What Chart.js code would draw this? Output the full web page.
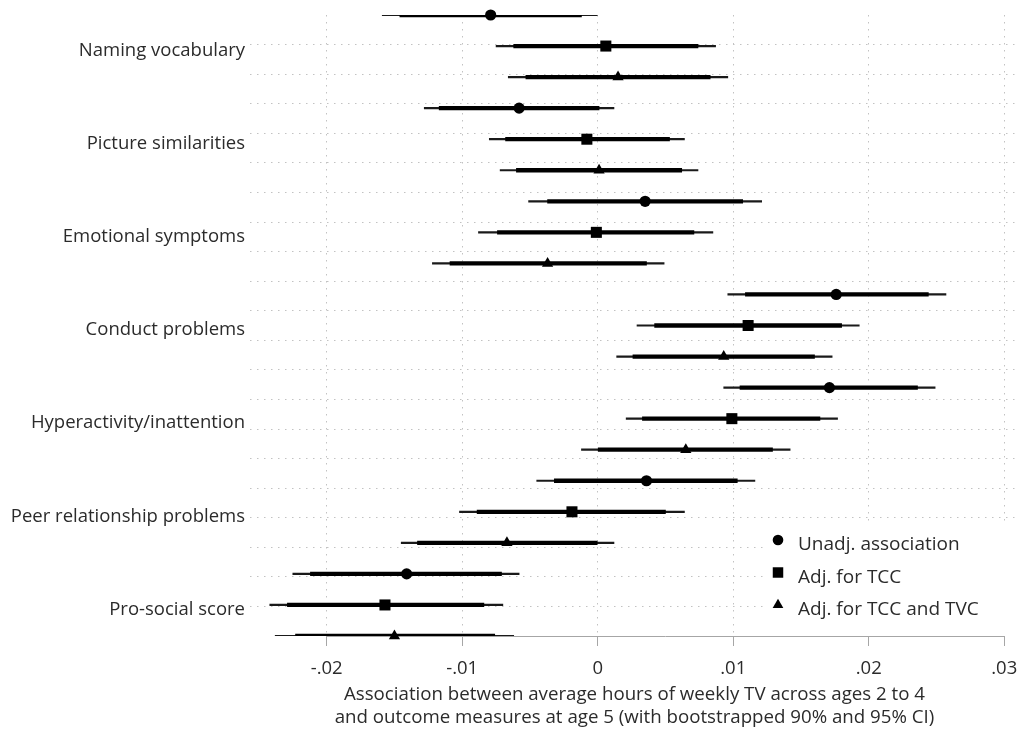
<!DOCTYPE html>
<html>
<head>
<meta charset="utf-8">
<script src="https://cdn.jsdelivr.net/npm/chart.js@4.4.0/dist/chart.umd.min.js"></script>
<style>
  html, body { margin: 0; padding: 0; background: #fff; }
  #wrap { width: 1019px; height: 731px; }
</style>
</head>
<body>
<div id="wrap"><canvas id="forest"></canvas></div>
<script>
const outcomes = ['Naming vocabulary', 'Picture similarities', 'Emotional symptoms', 'Conduct problems',
  'Hyperactivity/inattention', 'Peer relationship problems', 'Pro-social score'];
const models = ['Unadj. association', 'Adj. for TCC', 'Adj. for TCC and TVC'];
const xTicks = [-0.02, -0.01, 0, 0.01, 0.02, 0.03];
const xTitle = ['Association between average hours of weekly TV across ages 2 to 4',
  'and outcome measures at age 5 (with bootstrapped 90% and 95% CI)'];

// one row per outcome x model, top to bottom (unadj, TCC, TCC+TVC)
const estimate = [
  -0.0079, 0.0006, 0.0015,
  -0.0058, -0.0008, 0.0001,
  0.0035, -0.0001, -0.0037,
  0.0176, 0.0111, 0.0093,
  0.0171, 0.0099, 0.0065,
  0.0036, -0.0019, -0.0067,
  -0.0141, -0.0157, -0.0150
];
const lo90 = [
  -0.0146, -0.0062, -0.0053,
  -0.0117, -0.0068, -0.0060,
  -0.0037, -0.0074, -0.0109,
  0.0109, 0.0042, 0.0026,
  0.0105, 0.0033, 0.0000,
  -0.0032, -0.0089, -0.0133,
  -0.0212, -0.0229, -0.0223
];
const hi90 = [
  -0.0012, 0.0074, 0.0083,
  0.0001, 0.0053, 0.0062,
  0.0107, 0.0071, 0.0036,
  0.0244, 0.0180, 0.0160,
  0.0236, 0.0164, 0.0129,
  0.0103, 0.0050, 0.0000,
  -0.0071, -0.0084, -0.0076
];
const lo95 = [
  -0.0159, -0.0075, -0.0066,
  -0.0128, -0.0080, -0.0072,
  -0.0051, -0.0088, -0.0122,
  0.0096, 0.0029, 0.0014,
  0.0093, 0.0021, -0.0012,
  -0.0045, -0.0102, -0.0145,
  -0.0225, -0.0242, -0.0238
];
const hi95 = [
  0.0000, 0.0087, 0.0096,
  0.0012, 0.0064, 0.0074,
  0.0121, 0.0085, 0.0049,
  0.0257, 0.0193, 0.0173,
  0.0249, 0.0177, 0.0142,
  0.0116, 0.0064, 0.0012,
  -0.0058, -0.0070, -0.0062
];

const FONT = '"Open Sans", "DejaVu Sans", sans-serif';
const TEXT = '#2b2b2b';
const GRID = '#c2c2c2';
const DOTS = [1.5, 5.5];

const rows = estimate.map((_, i) => i);
const ciData = (lo, hi) => rows.map(i => ({ x: [lo[i], hi[i]], y: i }));
const pointData = m => rows.filter(i => i % 3 === m).map(i => ({ x: estimate[i], y: i }));

const styles = [
  { pointStyle: 'circle', pointRadius: 5.6 },
  { pointStyle: 'rect', pointRadius: 7.8 },
  { pointStyle: 'triangle', pointRadius: 6.5 }
];

const fmtTick = v => v === 0 ? '0' : (v < 0 ? '-' : '') + Math.abs(v).toFixed(2).replace(/^0/, '');

// axis line only spans the labelled range, and legend sits in a white box
const axisLine = {
  id: 'axisLine',
  beforeDatasetsDraw(chart) {
    const { ctx, chartArea, scales } = chart;
    ctx.save();
    ctx.strokeStyle = '#a6a6a6';
    ctx.lineWidth = 1;
    ctx.beginPath();
    ctx.moveTo(scales.x.getPixelForValue(xTicks[0]), chartArea.bottom + 0.5);
    ctx.lineTo(scales.x.getPixelForValue(xTicks[xTicks.length - 1]), chartArea.bottom + 0.5);
    ctx.stroke();
    ctx.restore();
  }
};

function marker(ctx, style, x, y, r) {
  ctx.beginPath();
  if (style === 'circle') {
    ctx.arc(x, y, r, 0, Math.PI * 2);
  } else if (style === 'rect') {
    const s = r * Math.SQRT1_2;
    ctx.rect(x - s, y - s, 2 * s, 2 * s);
  } else {
    ctx.moveTo(x, y - r);
    ctx.lineTo(x + r * 0.866, y + r / 2);
    ctx.lineTo(x - r * 0.866, y + r / 2);
    ctx.closePath();
  }
  ctx.fill();
}

const legendBox = {
  id: 'legendBox',
  afterDraw(chart) {
    const { ctx, chartArea: a } = chart;
    const left = a.right - 256, top = a.bottom - 115;
    ctx.save();
    ctx.fillStyle = '#fff';
    ctx.fillRect(left, top, 256, 113);
    models.forEach((name, k) => {
      const y = top + 24 + k * 32.5;
      ctx.fillStyle = '#000';
      marker(ctx, styles[k].pointStyle, left + 15, y - 5, styles[k].pointRadius * 0.95);
      ctx.fillStyle = TEXT;
      ctx.font = '19px ' + FONT;
      ctx.textBaseline = 'middle';
      ctx.textAlign = 'left';
      ctx.fillText(name, left + 35, y);
    });
    ctx.restore();
  }
};

const datasets = [
  {
    type: 'bar', label: '95% CI', data: ciData(lo95, hi95),
    backgroundColor: '#1a1a1a', barThickness: 1.5, grouped: false, order: 3
  },
  {
    type: 'bar', label: '90% CI', data: ciData(lo90, hi90),
    backgroundColor: '#000', barThickness: 3.6, grouped: false, order: 2
  }
].concat(models.map((name, m) => ({
  type: 'scatter', label: name, data: pointData(m),
  pointStyle: styles[m].pointStyle, pointRadius: styles[m].pointRadius,
  pointBackgroundColor: '#000', pointBorderWidth: 0, clip: false, order: 1
})));

new Chart(document.getElementById('forest'), {
  type: 'bar',
  data: { datasets },
  plugins: [axisLine, legendBox],
  options: {
    indexAxis: 'y',
    responsive: true,
    maintainAspectRatio: false,
    animation: false,
    layout: { autoPadding: false, padding: { top: 15, left: 0, right: 0, bottom: 0 } },
    plugins: { legend: { display: false }, tooltip: { enabled: false } },
    scales: {
      x: {
        type: 'linear',
        min: -0.02566,
        max: 0.03109,
        offset: false,
        afterBuildTicks: s => { s.ticks = xTicks.map(v => ({ value: v })); },
        afterFit: s => { s.height = 95; s.paddingLeft = 0; s.paddingRight = 0; },
        grid: { offset: false, color: GRID, lineWidth: 1, tickColor: '#a6a6a6', tickLength: 10, tickBorderDash: [] },
        border: { display: false, dash: DOTS },
        ticks: { callback: v => fmtTick(v), color: TEXT, padding: 12, font: { family: FONT, size: 18.5 } },
        title: {
          display: true, text: xTitle, color: TEXT,
          font: { family: FONT, size: 18.7, lineHeight: 1.24 },
          padding: { top: 2, bottom: 2 }
        }
      },
      y: {
        type: 'linear',
        reverse: true,
        offset: false,
        min: 0,
        max: estimate.length - 1,
        afterBuildTicks: s => { s.ticks = outcomes.map((_, k) => ({ value: 3 * k + 1 })); },
        afterFit: s => { s.width = 250; s.paddingTop = 0; s.paddingBottom = 0; },
        grid: { display: false, drawTicks: false, offset: false },
        border: { display: false },
        ticks: {
          callback: (v, i) => outcomes[i], color: TEXT, padding: 5, labelOffset: 4.5,
          font: { family: FONT, size: 18.5 }
        }
      },
      yGrid: {
        type: 'linear',
        position: 'right',
        offset: false,
        min: 0,
        max: 21,
        afterBuildTicks: s => { s.ticks = Array.from({ length: 20 }, (_, k) => ({ value: k + 1 })); },
        afterFit: s => { s.width = 0; s.paddingTop = 0; s.paddingBottom = 0; },
        grid: { offset: false, color: GRID, lineWidth: 1, drawTicks: false },
        border: { display: false, dash: DOTS },
        ticks: { display: false }
      }
    }
  }
});
</script>
</body>
</html>
